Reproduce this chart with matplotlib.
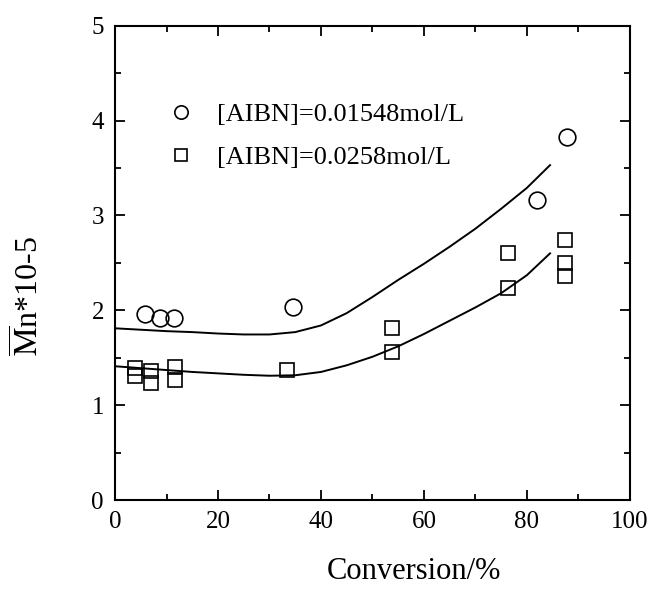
import matplotlib
matplotlib.use("Agg")
import matplotlib.pyplot as plt
from matplotlib.ticker import MultipleLocator

plt.rcParams["font.family"] = ["Liberation Serif", "DejaVu Serif"]
plt.rcParams["mathtext.fontset"] = "stix"

# -------- DATA --------
# [AIBN]=0.01548 mol/L (circles)
conv_a = [5.8, 8.7, 11.5, 34.6, 81.9, 87.7]
mn_a = [1.965, 1.92, 1.92, 2.03, 3.16, 3.83]

# [AIBN]=0.0258 mol/L (squares)
conv_b = [3.8, 3.8, 6.9, 6.9, 11.6, 11.6, 33.4, 53.8, 53.8, 76.4, 76.4, 87.4, 87.4, 87.4]
mn_b = [1.39, 1.31, 1.36, 1.23, 1.40, 1.26, 1.375, 1.81, 1.56, 2.60, 2.24, 2.74, 2.50, 2.36]

# model curves
curve_x = [0, 5, 10, 15, 20, 25, 30, 35, 40, 45, 50, 55, 60, 65, 70, 75, 80, 84.5]
curve_a = [1.81, 1.795, 1.78, 1.77, 1.755, 1.745, 1.745, 1.77, 1.84, 1.97,
           2.14, 2.32, 2.49, 2.67, 2.86, 3.07, 3.29, 3.53]
curve_b = [1.41, 1.39, 1.37, 1.35, 1.335, 1.32, 1.31, 1.315, 1.35, 1.42,
           1.51, 1.62, 1.75, 1.89, 2.03, 2.18, 2.37, 2.60]

labels = ["[AIBN]=0.01548mol/L", "[AIBN]=0.0258mol/L"]

# -------- PLOT --------
fig = plt.figure(figsize=(6.5, 5.9), dpi=100)
ax = fig.add_axes([0.177, 0.1525, 0.792, 0.804])

ax.plot(curve_x, curve_a, color="black", lw=1.4)
ax.plot(curve_x, curve_b, color="black", lw=1.4)
h1, = ax.plot(conv_a, mn_a, ls="none", marker="o", ms=12, mfc="none",
              mec="black", mew=1.2, label=labels[0])
h2, = ax.plot(conv_b, mn_b, ls="none", marker="s", ms=10.5, mfc="none",
              mec="black", mew=1.2, label=labels[1])

ax.set_xlim(0, 100)
ax.set_ylim(0, 5)
ax.xaxis.set_major_locator(MultipleLocator(20))
ax.xaxis.set_minor_locator(MultipleLocator(10))
ax.yaxis.set_major_locator(MultipleLocator(1))
ax.yaxis.set_minor_locator(MultipleLocator(0.5))
ax.tick_params(which="both", direction="in", top=True, right=True,
               width=1.3, labelsize=18, pad=8)
ax.tick_params(which="major", length=7)
ax.tick_params(which="minor", length=4)
for s in ax.spines.values():
    s.set_linewidth(1.5)

ax.set_xlabel("Conversion/%", fontsize=22)
ax.xaxis.set_label_coords(0.58, -0.12)
ax.set_ylabel(r"$\overline{\mathrm{M}}$n*10-5", fontsize=23)
ax.yaxis.set_label_coords(-0.135, 0.43)

ax.legend(handles=[h1, h2], loc="center left", bbox_to_anchor=(0.1025, 0.768),
          frameon=False, fontsize=19, markerscale=0.8, handlelength=1.0,
          handletextpad=0.85, labelspacing=0.75, borderpad=0, borderaxespad=0)

fig.savefig("out.png", dpi=100)
